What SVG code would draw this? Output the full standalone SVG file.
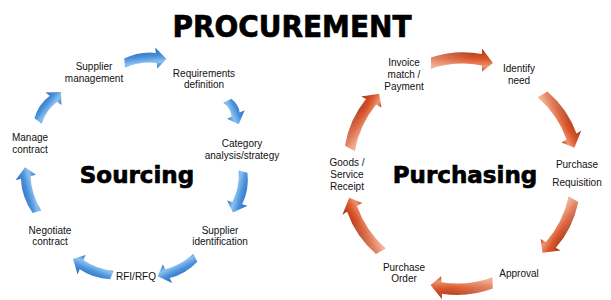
<svg xmlns="http://www.w3.org/2000/svg" xmlns:xlink="http://www.w3.org/1999/xlink" width="611" height="300" viewBox="0 0 611 300">
<style>
.lbl{font-family:"Liberation Sans",Arial,sans-serif;font-size:10px;fill:#111;text-anchor:middle}
.big{font-family:"DejaVu Sans",sans-serif;font-weight:bold;fill:#000;text-anchor:middle;stroke:#000;stroke-width:0.7}
</style>
<defs>
<linearGradient id="gb" gradientUnits="userSpaceOnUse" x1="0" y1="-12" x2="0" y2="8">
<stop offset="0" stop-color="#2c6cbc"/><stop offset="0.4" stop-color="#4a90da"/><stop offset="0.7" stop-color="#8cc1f0"/><stop offset="1" stop-color="#357bc9"/>
</linearGradient>
<linearGradient id="go" gradientUnits="userSpaceOnUse" x1="0" y1="-14" x2="0" y2="8">
<stop offset="0" stop-color="#a53820"/><stop offset="0.45" stop-color="#d9552a"/><stop offset="0.8" stop-color="#ee9572"/><stop offset="1" stop-color="#c24823"/>
</linearGradient>
<linearGradient id="hl" gradientUnits="userSpaceOnUse" x1="-31" y1="0" x2="10" y2="0">
<stop offset="0" stop-color="#fff" stop-opacity="0.3"/><stop offset="1" stop-color="#fff" stop-opacity="0"/>
</linearGradient>
<path id="b42" d="M -21,-4.5 Q -5,-10.5 11,-7 L 11,-12.5 L 21,0 L 11,8.5 L 11,3 Q -5,-0.5 -21,4.5 Z"/>
<path id="b46" d="M -23,-4.5 Q -5,-11 13,-7 L 13,-12.5 L 23,0 L 13,8.5 L 13,3 Q -5,-1 -23,4.5 Z"/>
<path id="b37" d="M -18.5,-4.5 Q -5,-10 8.5,-6.5 L 8.5,-12 L 18.5,0 L 8.5,8.5 L 8.5,3 Q -5,-0.5 -18.5,4.5 Z"/>
<path id="b26" d="M -13,-4.5 Q -5,-8.5 3,-6 L 3,-11.5 L 13,0 L 3,8 L 3,3 Q -5,0 -13,4.5 Z"/>
<path id="o62" d="M -31,-5.5 Q -5.5,-14 20,-9 L 20,-14.5 L 31,0 L 20,8.5 L 20,2.5 Q -5.5,-2.5 -31,5.5 Z"/>
</defs>
<rect width="611" height="300" fill="#fff"/>

<g id="titles">
<text class="big" x="292" y="37" font-size="30" textLength="239" lengthAdjust="spacingAndGlyphs">PROCUREMENT</text>
<text class="big" x="137" y="183" font-size="23">Sourcing</text>
<text class="big" x="465" y="183" font-size="23">Purchasing</text>
</g>

<g id="connectors">
<g transform="translate(145.5,61) rotate(-5.6)"><use xlink:href="#b42" fill="url(#gb)"/></g>
<g transform="translate(233,112.5) rotate(64)"><use xlink:href="#b26" fill="url(#gb)"/></g>
<g transform="translate(238,192) rotate(104)"><use xlink:href="#b42" fill="url(#gb)"/></g>
<g transform="translate(176.5,267) rotate(154)"><use xlink:href="#b42" fill="url(#gb)"/></g>
<g transform="translate(92.5,267) rotate(-157.7)"><use xlink:href="#b42" fill="url(#gb)"/></g>
<g transform="translate(31,189.5) rotate(-105)"><use xlink:href="#b46" fill="url(#gb)"/></g>
<g transform="translate(49.5,106.5) rotate(-51.6)"><use xlink:href="#b37" fill="url(#gb)"/></g>

<g transform="translate(462,63)"><use xlink:href="#o62" fill="url(#go)"/><use xlink:href="#o62" fill="url(#hl)"/></g>
<g transform="translate(558.5,121) rotate(59.2)"><use xlink:href="#o62" fill="url(#go)"/><use xlink:href="#o62" fill="url(#hl)"/></g>
<g transform="translate(558,226) rotate(120)"><use xlink:href="#o62" fill="url(#go)"/><use xlink:href="#o62" fill="url(#hl)"/></g>
<g transform="translate(461.5,284) rotate(178)"><use xlink:href="#o62" fill="url(#go)"/><use xlink:href="#o62" fill="url(#hl)"/></g>
<g transform="translate(365,224.5) rotate(-120.5)"><use xlink:href="#o62" fill="url(#go)"/><use xlink:href="#o62" fill="url(#hl)"/></g>
<g transform="translate(364.5,121) rotate(-61.8)"><use xlink:href="#o62" fill="url(#go)"/><use xlink:href="#o62" fill="url(#hl)"/></g>
</g>

<g id="supplier-management"><text class="lbl" x="94" y="70">Supplier</text><text class="lbl" x="94" y="81.5">management</text></g>
<g id="requirements-definition"><text class="lbl" x="204" y="76.5">Requirements</text><text class="lbl" x="204" y="88">definition</text></g>
<g id="category-analysis"><text class="lbl" x="242" y="146.5">Category</text><text class="lbl" x="242" y="158.5">analysis/strategy</text></g>
<g id="supplier-identification"><text class="lbl" x="220" y="233.5">Supplier</text><text class="lbl" x="220" y="245">identification</text></g>
<g id="rfi-rfq"><text class="lbl" x="136" y="279.5">RFI/RFQ</text></g>
<g id="negotiate-contract"><text class="lbl" x="50" y="233.5">Negotiate</text><text class="lbl" x="50" y="245">contract</text></g>
<g id="manage-contract"><text class="lbl" x="30" y="141">Manage</text><text class="lbl" x="30" y="152.5">contract</text></g>

<g id="invoice-match"><text class="lbl" x="404" y="65.5">Invoice</text><text class="lbl" x="404" y="77.5">match /</text><text class="lbl" x="404" y="89.5">Payment</text></g>
<g id="identify-need"><text class="lbl" x="519" y="71.5">Identify</text><text class="lbl" x="519" y="83.5">need</text></g>
<g id="purchase-requisition"><text class="lbl" x="577" y="167.5">Purchase</text><text class="lbl" x="577" y="185.5">Requisition</text></g>
<g id="approval"><text class="lbl" x="519" y="276.5">Approval</text></g>
<g id="purchase-order"><text class="lbl" x="404" y="270.5">Purchase</text><text class="lbl" x="404" y="282">Order</text></g>
<g id="goods-receipt"><text class="lbl" x="347" y="165.5">Goods /</text><text class="lbl" x="347" y="177.5">Service</text><text class="lbl" x="347" y="189.5">Receipt</text></g>
</svg>
